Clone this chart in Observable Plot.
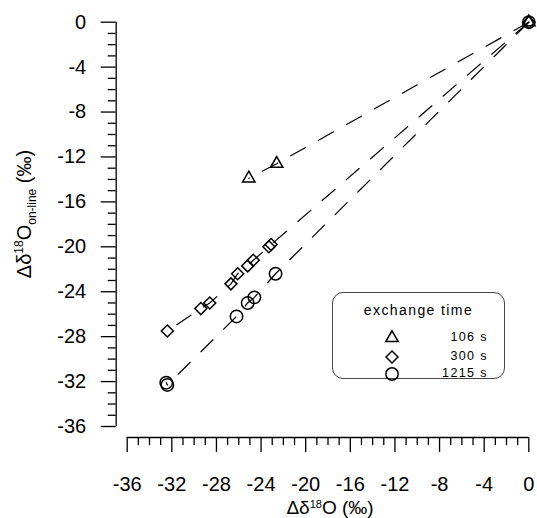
<!DOCTYPE html>
<html>
<head>
<meta charset="utf-8">
<script src="https://cdn.jsdelivr.net/npm/d3@7"></script>
<script src="https://cdn.jsdelivr.net/npm/@observablehq/plot@0.6"></script>
<style>
  html, body { margin: 0; padding: 0; background: #fff; }
  #chart { position: relative; width: 537px; height: 518px; font-family: "Liberation Sans", Arial, sans-serif; }
  #legend {
    position: absolute; left: 332px; top: 292px; width: 173px; height: 87px;
    border: 1px solid #444; border-radius: 11px; background: #fff; box-sizing: border-box;
  }
  #legend .title { position: absolute; left: 0; width: 100%; top: 9px; text-align: center; font-size: 14px; letter-spacing: 1.4px; }
  #legend .row { position: absolute; left: 0; width: 100%; height: 18px; }
  #legend .row svg { position: absolute; left: 50px; top: 0; }
  #legend .row span { position: absolute; right: 16px; top: 1px; font-size: 12.5px; letter-spacing: 1.4px; }
</style>
</head>
<body>
<div id="chart"></div>
<script>
// Exchange-time series: Δδ18O (x) against on-line Δδ18O (y), in ‰
const series = ["106 s", "300 s", "1215 s"];
const symbols = ["triangle", "diamond2", "circle"];
const radii = [4.6, 5.4, 6.2];

const x106 = [0, -22.6, -25.1];
const y106 = [0, -12.6, -13.9];

const x300 = [0, -23.1, -23.3, -24.7, -25.2, -26.1, -26.7, -28.6, -29.4, -32.4];
const y300 = [0, -19.8, -20.0, -21.2, -21.7, -22.4, -23.3, -25.0, -25.5, -27.5];

const x1215 = [0, -22.7, -24.6, -25.2, -26.2, -32.4, -32.5];
const y1215 = [0, -22.4, -24.5, -25.0, -26.2, -32.3, -32.1];

const xTicks = [-36, -32, -28, -24, -20, -16, -12, -8, -4, 0];
const yTicks = [0, -4, -8, -12, -16, -20, -24, -28, -32, -36];
const xMinor = d3.range(-36, 1).filter(v => v % 4 !== 0);
const yMinor = d3.range(-36, 1).filter(v => v % 4 !== 0);

const toRows = (xs, ys) => xs.map((x, i) => ({x, y: ys[i]}));
const data = [toRows(x106, y106), toRows(x300, y300), toRows(x1215, y1215)];

const font = "\"Liberation Sans\", Arial, sans-serif";
const fmt = d => String(d);

const marks = [
  // detached axis lines
  Plot.ruleX([-36], {y1: -36, y2: 0, dx: -11, stroke: "black", strokeWidth: 1.3}),
  Plot.ruleY([-36], {x1: -36, x2: 0, dy: 11, stroke: "black", strokeWidth: 1.3}),
  Plot.axisY({ticks: yTicks, tickSize: 15, tickPadding: 15, dx: -11, tickFormat: fmt, label: null, strokeWidth: 1.3, fontSize: 20}),
  Plot.axisY({ticks: yMinor, tickSize: 8, text: null, dx: -11, label: null, strokeWidth: 1.3}),
  Plot.axisX({ticks: xTicks, tickSize: 15, tickPadding: 24, dy: 11, tickFormat: fmt, label: null, strokeWidth: 1.3, fontSize: 20}),
  Plot.axisX({ticks: xMinor, tickSize: 8, text: null, dy: 11, label: null, strokeWidth: 1.3})
];

data.forEach((rows) => {
  marks.push(Plot.line(rows, {x: "x", y: "y", stroke: "black", strokeWidth: 1.2, strokeDasharray: "17,15"}));
});
data.forEach((rows, i) => {
  marks.push(Plot.dot(rows, {x: "x", y: "y", symbol: () => symbols[i], r: radii[i], stroke: "black", strokeWidth: 1.5, fill: "none"}));
});

const plot = Plot.plot({
  width: 537,
  height: 518,
  marginLeft: 126.7,
  marginRight: 8.7,
  marginTop: 21.7,
  marginBottom: 92,
  x: {domain: [-36, 0]},
  y: {domain: [-36, 0]},
  symbol: {type: "identity"},
  style: {fontFamily: font, fontSize: "20px", color: "black", background: "white", overflow: "visible"},
  marks
});

const chart = document.getElementById("chart");
chart.appendChild(plot);

// axis titles with sub/superscripts
const svg = d3.select(plot);
const yTitle = svg.append("text")
  .attr("transform", "translate(31,214) rotate(-90)")
  .attr("text-anchor", "middle")
  .attr("font-family", font)
  .attr("font-size", 20)
  .attr("fill", "black");
yTitle.append("tspan").text("Δδ");
yTitle.append("tspan").attr("font-size", 12).attr("dy", -8).text("18");
yTitle.append("tspan").attr("dy", 8).text("O");
yTitle.append("tspan").attr("font-size", 12).attr("dy", 5).text("on-line");
yTitle.append("tspan").attr("dy", -5).text(" (‰)");

const xTitle = svg.append("text")
  .attr("x", 330).attr("y", 514)
  .attr("text-anchor", "middle")
  .attr("font-family", font)
  .attr("font-size", 19)
  .attr("fill", "black");
xTitle.append("tspan").text("Δδ");
xTitle.append("tspan").attr("font-size", 11).attr("dy", -6).text("18");
xTitle.append("tspan").attr("dy", 6).text("O (‰)");

// legend
const legend = d3.select(chart).append("div").attr("id", "legend");
legend.append("div").attr("class", "title").text("exchange time");
const rowTops = [36, 55, 72];
series.forEach((name, i) => {
  const row = legend.append("div").attr("class", "row").style("top", rowTops[i] + "px");
  const s = row.append("svg").attr("width", 18).attr("height", 18);
  const sym = {triangle: d3.symbolTriangle, diamond2: d3.symbolDiamond2, circle: d3.symbolCircle}[symbols[i]];
  s.append("path")
    .attr("transform", "translate(9,9)")
    .attr("d", d3.symbol(sym, radii[i] * radii[i] * Math.PI)())
    .attr("fill", "none").attr("stroke", "black").attr("stroke-width", 1.5);
  row.append("span").text(name);
});
</script>
</body>
</html>
